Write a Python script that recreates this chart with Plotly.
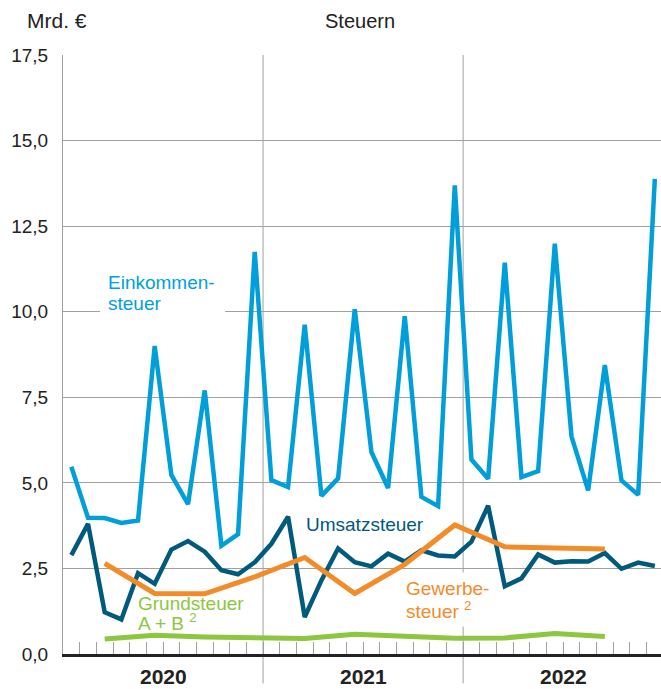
import plotly.graph_objects as go

# Monthly positions Jan 2020 .. Dec 2022 (index 0..35)
months = list(range(36))
years = ["2020", "2021", "2022"]

# Einkommensteuer, monthly (Mrd. €)
einkommen = [5.47, 3.98, 3.97, 3.83, 3.90, 9.00, 5.23, 4.38, 7.70, 3.16, 3.50, 11.75,
             5.08, 4.88, 9.62, 4.62, 5.13, 10.07, 5.90, 4.85, 9.87, 4.59, 4.32, 13.69,
             5.68, 5.12, 11.43, 5.17, 5.34, 11.99, 6.36, 4.78, 8.44, 5.07, 4.65, 13.88]

# Umsatzsteuer, monthly
umsatz = [2.89, 3.80, 1.22, 1.01, 2.36, 2.05, 3.05, 3.30, 2.99, 2.45, 2.33, 2.68,
          3.22, 4.01, 1.08, 2.15, 3.08, 2.68, 2.56, 2.93, 2.70, 3.03, 2.88, 2.85,
          3.28, 4.33, 1.98, 2.21, 2.91, 2.67, 2.71, 2.70, 2.95, 2.49, 2.67, 2.57]

# Quarterly series, plotted at the last month of each quarter
quarters = [2, 5, 8, 11, 14, 17, 20, 23, 26, 29, 32]
gewerbe = [2.65, 1.77, 1.76, 2.25, 2.82, 1.77, 2.62, 3.77, 3.13, 3.10, 3.07]
grund = [0.44, 0.55, 0.50, 0.46, 0.45, 0.58, 0.51, 0.46, 0.47, 0.60, 0.51]

C_EINK = "#009FDA"
C_UMS = "#005A7D"
C_GEW = "#F28C28"
C_GRD = "#8DC63F"
GRID = "#A0A0A0"
FONT = "Liberation Sans"

fig = go.Figure()
fig.add_trace(go.Scatter(x=months, y=einkommen, mode="lines", line=dict(color=C_EINK, width=4.5)))
fig.add_trace(go.Scatter(x=months, y=umsatz, mode="lines", line=dict(color=C_UMS, width=4.5)))
fig.add_trace(go.Scatter(x=quarters, y=gewerbe, mode="lines", line=dict(color=C_GEW, width=5)))
fig.add_trace(go.Scatter(x=quarters, y=grund, mode="lines", line=dict(color=C_GRD, width=5)))

# year separators (extend below the axis)
for xb in [11.5, 23.5]:
    fig.add_shape(type="line", xref="x", yref="paper", x0=xb, x1=xb, y0=-0.049, y1=1,
                  line=dict(color=GRID, width=1), layer="below")

# white boxes behind labels hiding grid lines
fig.add_shape(type="rect", xref="x", yref="y", x0=1.72, x1=9.22, y0=9.75, y1=11.3,
              fillcolor="white", line=dict(width=0), layer="between")
fig.add_shape(type="rect", xref="x", yref="y", x0=19.72, x1=25.72, y0=0.8, y1=2.38,
              fillcolor="white", line=dict(width=0), layer="between")

labels = [
    ("Einkommen-", 2.1, 10.84, C_EINK),
    ("steuer", 2.1, 10.25, C_EINK),
    ("Umsatzsteuer", 13.98, 3.77, C_UMS),
    ("Gewerbe-", 19.98, 1.90, C_GEW),
    ("steuer <sup>2</sup>", 19.98, 1.29, C_GEW),
    ("Grundsteuer", 3.9, 1.49, C_GRD),
    ("A + B <sup>2</sup>", 3.9, 0.93, C_GRD),
]
for txt, x, y, col in labels:
    fig.add_annotation(text=txt, x=x, y=y, xref="x", yref="y", xanchor="left", yanchor="middle",
                       showarrow=False, font=dict(family=FONT, size=19, color=col))

for i, yr in enumerate(years):
    fig.add_annotation(text="<b>" + yr + "</b>", x=5.5 + 12 * i, y=-0.037, xref="x", yref="paper",
                       xanchor="center", yanchor="middle", showarrow=False,
                       font=dict(family=FONT, size=21, color="#222222"))

fig.add_annotation(text="Steuern", x=0.4967, y=1.057, xref="paper", yref="paper",
                   xanchor="center", yanchor="middle", showarrow=False,
                   font=dict(family=FONT, size=20, color="#222222"))
fig.add_annotation(text="Mrd. €", x=-0.0635, y=1.057, xref="paper", yref="paper",
                   xanchor="left", yanchor="middle", showarrow=False,
                   font=dict(family=FONT, size=21, color="#222222"))

fig.update_layout(
    width=661, height=689,
    margin=dict(l=63, r=0, t=55, b=35),
    paper_bgcolor="white", plot_bgcolor="rgba(0,0,0,0)",
    showlegend=False,
    xaxis=dict(range=[-0.5, 35.37], showgrid=False, zeroline=False,
               tickmode="array", tickvals=[m - 0.5 for m in range(37)],
               ticks="inside", ticklen=12, tickcolor=GRID, tickwidth=1,
               showticklabels=False, showline=True, linecolor="#222222", linewidth=2.5),
    yaxis=dict(range=[0, 17.5], tickmode="array",
               tickvals=[0, 2.5, 5, 7.5, 10, 12.5, 15, 17.5],
               ticktext=["0,0", "2,5", "5,0", "7,5", "10,0", "12,5", "15,0", "17,5"],
               showgrid=True, gridcolor=GRID, gridwidth=1, zeroline=False,
               showline=True, linecolor=GRID, linewidth=1, ticks="", ticklabelstandoff=10,
               tickfont=dict(family=FONT, size=19, color="#222222")),
)

# drop the default page margin so the figure fills the window exactly
fig.write_html("out.html", config={"displayModeBar": False},
               post_script="document.body.style.margin='0';")
